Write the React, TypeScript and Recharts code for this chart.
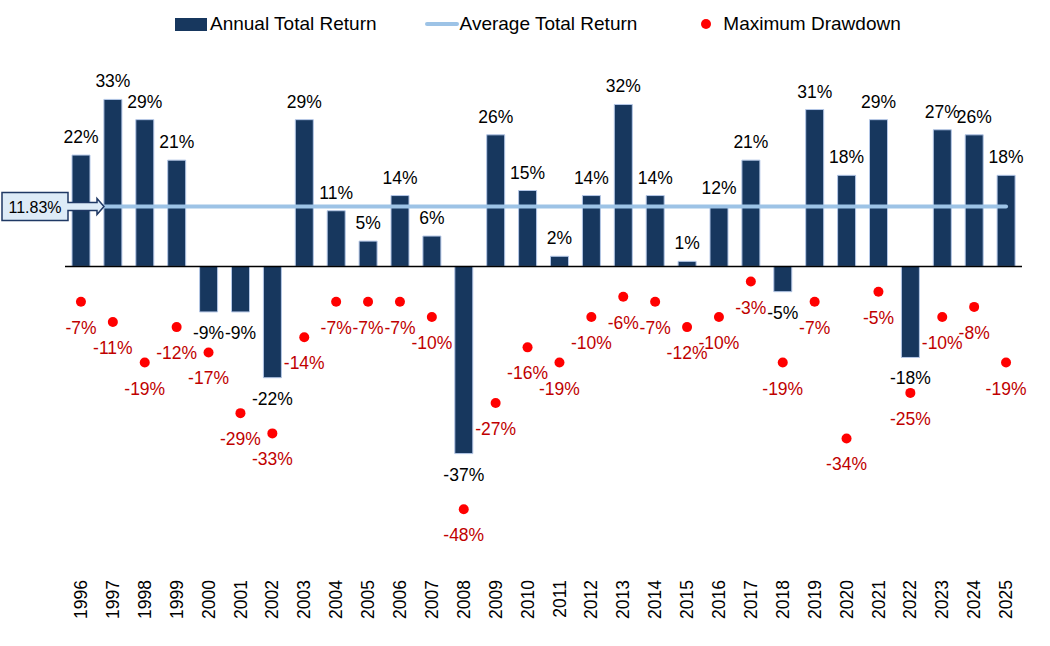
import React from "react";
import {
  ComposedChart,
  Bar,
  Line,
  Scatter,
  XAxis,
  YAxis,
  ReferenceLine,
  LabelList,
} from "recharts";

const YEARS = [
  "1996", "1997", "1998", "1999", "2000", "2001", "2002", "2003", "2004", "2005",
  "2006", "2007", "2008", "2009", "2010", "2011", "2012", "2013", "2014", "2015",
  "2016", "2017", "2018", "2019", "2020", "2021", "2022", "2023", "2024", "2025",
];
const ANNUAL_RETURN = [
  22, 33, 29, 21, -9, -9, -22, 29, 11, 5,
  14, 6, -37, 26, 15, 2, 14, 32, 14, 1,
  12, 21, -5, 31, 18, 29, -18, 27, 26, 18,
];
const MAX_DRAWDOWN = [
  -7, -11, -19, -12, -17, -29, -33, -14, -7, -7,
  -7, -10, -48, -27, -16, -19, -10, -6, -7, -12,
  -10, -3, -19, -7, -34, -5, -25, -10, -8, -19,
];
const AVG_RETURN = 11.83;

const data = YEARS.map((year, i) => ({
  year,
  ret: ANNUAL_RETURN[i],
  avg: AVG_RETURN,
  dd: MAX_DRAWDOWN[i],
}));

const FONT = "'Liberation Sans', Arial, sans-serif";
const NAVY = "#17375E";
const LIGHT_BLUE = "#9DC3E6";

const BarLabel = (props: any) => {
  const x = Number(props.x);
  const y = Number(props.y);
  const w = Number(props.width);
  const h = Number(props.height);
  const v = Number(props.value);
  const top = Math.min(y, y + h);
  const bottom = Math.max(y, y + h);
  const ty = v >= 0 ? top - 12 : bottom + 27;
  return (
    <text x={x + w / 2} y={ty} textAnchor="middle" fontSize={17.5} fontFamily={FONT} fill="#000">
      {`${v}%`}
    </text>
  );
};

const DrawdownDot = (props: any) => {
  const { cx, cy, payload } = props;
  return (
    <g>
      <circle cx={cx} cy={cy} r={5} fill="#FF0000" />
      <text x={cx} y={cy + 32} textAnchor="middle" fontSize={17.5} fontFamily={FONT} fill="#C00000">
        {`${payload.dd}%`}
      </text>
    </g>
  );
};

const YearTick = (props: any) => {
  const x = Number(props.x);
  const y = Number(props.y) + 8;
  return (
    <text
      x={x}
      y={y}
      transform={`rotate(-90, ${x}, ${y})`}
      textAnchor="end"
      dy="0.35em"
      fontSize={17.5}
      fontFamily={FONT}
      fill="#000"
    >
      {props.payload.value}
    </text>
  );
};

// callout box with arrow pointing at the average line
const AvgCallout = (props: any) => {
  const vb = props.viewBox || {};
  const x0 = Number(vb.x) - 63;
  const y = Number(vb.y);
  const d = [
    `M${x0},${y - 14}`,
    `H${x0 + 66}`,
    `V${y - 4}`,
    `H${x0 + 95}`,
    `V${y - 8}`,
    `L${x0 + 102},${y}`,
    `L${x0 + 95},${y + 8}`,
    `V${y + 4}`,
    `H${x0 + 66}`,
    `V${y + 14}`,
    `H${x0}`,
    "Z",
  ].join(" ");
  return (
    <g>
      <path d={d} fill="#DDEBF7" stroke="#1F3864" strokeWidth={1.5} />
      <text x={x0 + 33} y={y + 6} textAnchor="middle" fontSize={16} fontFamily={FONT} fill="#000">
        {`${AVG_RETURN.toFixed(2)}%`}
      </text>
    </g>
  );
};

const legendText: React.CSSProperties = { fontSize: 19, fontFamily: FONT, color: "#000" };

export default function App() {
  return (
    <div style={{ position: "relative", width: 1050, height: 646, background: "#fff" }}>
      <style>{`body{margin:0}`}</style>
      <div
        style={{
          position: "absolute",
          top: 12,
          left: 175,
          display: "flex",
          alignItems: "center",
          height: 24,
          zIndex: 2,
        }}
      >
        <span style={{ width: 32, height: 13, background: NAVY, marginRight: 3 }} />
        <span style={{ ...legendText, marginRight: 48 }}>Annual Total Return</span>
        <span style={{ width: 34, height: 4, background: LIGHT_BLUE, borderRadius: 2, marginRight: 1 }} />
        <span style={{ ...legendText, marginRight: 64 }}>Average Total Return</span>
        <span style={{ width: 10, height: 10, borderRadius: 5, background: "#FF0000", marginRight: 12 }} />
        <span style={legendText}>Maximum Drawdown</span>
      </div>
      <ComposedChart
        width={1050}
        height={646}
        data={data}
        margin={{ top: 64, right: 28, bottom: 0, left: 65 }}
      >
        <XAxis
          dataKey="year"
          axisLine={false}
          tickLine={false}
          tickSize={0}
          interval={0}
          height={76}
          tick={<YearTick />}
        />
        <YAxis hide domain={[-60, 40]} allowDataOverflow />
        <Bar
          dataKey="ret"
          fill={NAVY}
          stroke="#B4C7E7"
          strokeWidth={1}
          barSize={18}
          isAnimationActive={false}
        >
          <LabelList dataKey="ret" content={<BarLabel />} />
        </Bar>
        <ReferenceLine y={0} stroke="#000" strokeWidth={1.5} />
        <Line
          dataKey="avg"
          stroke={LIGHT_BLUE}
          strokeWidth={4}
          strokeLinecap="round"
          dot={false}
          activeDot={false}
          isAnimationActive={false}
        />
        <Scatter dataKey="dd" shape={<DrawdownDot />} isAnimationActive={false} />
        <ReferenceLine y={AVG_RETURN} stroke="none" label={<AvgCallout />} />
      </ComposedChart>
    </div>
  );
}
